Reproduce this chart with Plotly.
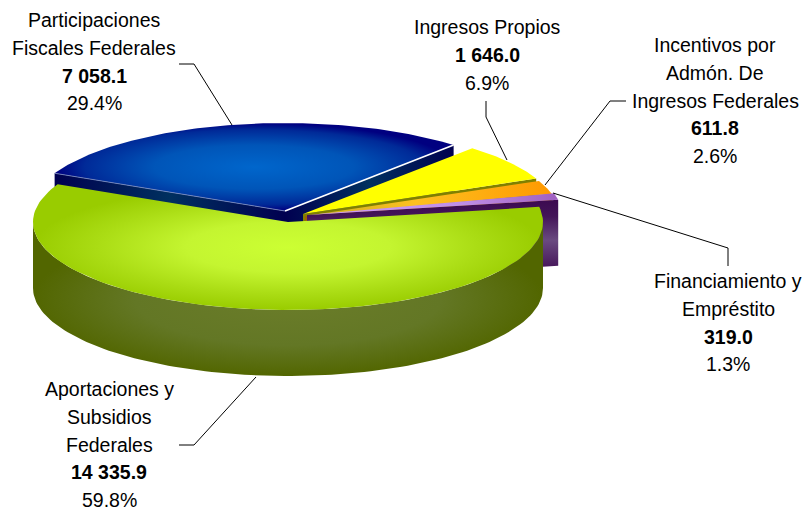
import numpy as np
import plotly.graph_objects as go

# Datos
categorias = ["Participaciones Fiscales Federales", "Ingresos Propios",
              "Incentivos por Admón. De Ingresos Federales",
              "Financiamiento y Empréstito", "Aportaciones y Subsidios Federales"]
valores = [7058.1, 1646.0, 611.8, 319.0, 14335.9]
etiquetas_valor = ["7 058.1", "1 646.0", "611.8", "319.0", "14 335.9"]
etiquetas_pct = ["29.4%", "6.9%", "2.6%", "1.3%", "59.8%"]
lineas_texto = [["Participaciones", "Fiscales Federales"], ["Ingresos Propios"],
                ["Incentivos por", "Admón. De", "Ingresos Federales"],
                ["Financiamiento y", "Empréstito"],
                ["Aportaciones y", "Subsidios", "Federales"]]

# Geometria del pastel
A, B, H = 255, 88, 66
INICIO = 154.6
centros = [(285, 211), (303, 214), (305, 216), (307, 215), (288, 222)]
texto_pos = [(94, 20), (487, 27), (715, 45), (728, 281), (109, 389)]
PASO = 27.8
lider = [[(179, 64), (194, 64), (232, 125)],
         [(486, 101), (486, 117), (507, 160)],
         [(626, 101), (610, 101), (545, 185)],
         [(553, 193), (728, 248), (728, 266)],
         [(179, 445), (194, 445), (256, 377)]]

spans = np.array(valores) / sum(valores) * 360
fines = INICIO - np.cumsum(spans)
inicios = np.concatenate([[INICIO], fines[:-1]])


def pt(c, t, dy=0):
    t = np.radians(t)
    return c[0] + A * np.cos(t), c[1] - B * np.sin(t) + dy


def arco(c, t0, t1, dy=0):
    ts = np.linspace(t0, t1, 120)
    return pt(c, ts, dy)


fig = go.Figure()


def poly(x, y, color=None, grad=None, orient="radial", linea=None):
    kw = dict(x=list(x), y=list(y), mode="lines", fill="toself", hoverinfo="skip",
              showlegend=False, line=dict(width=0))
    if grad:
        kw["fillgradient"] = dict(type=orient, colorscale=grad)
        kw["fillcolor"] = grad[0][1]
    else:
        kw["fillcolor"] = color
    fig.add_trace(go.Scatter(**kw))


def cara_top(i, color=None, grad=None, orient="radial"):
    c = centros[i]
    ax, ay = arco(c, inicios[i], fines[i])
    poly([c[0], *ax, c[0]], [c[1], *ay, c[1]], color, grad, orient)


def cara_corte(i, t, grad=None, color=None, orient="vertical"):
    c = centros[i]
    x, y = pt(c, t)
    poly([c[0], x, x, c[0], c[0]], [c[1], y, y + H, c[1] + H, c[1]], color, grad, orient)


azul_corte = [[0, "#000050"], [0.5, "#00305f"], [1, "#000050"]]
# Participaciones
cara_corte(0, inicios[0], azul_corte, orient="horizontal")
cara_corte(0, fines[0], azul_corte, orient="horizontal")
cara_top(0, grad=[[0, "#0066cc"], [0.5, "#0055b8"], [0.85, "#002a98"], [1, "#000080"]])
for t, col, w in [(fines[0], "#ffffff", 1.6), (inicios[0], "#7f8fc0", 0.8)]:
    x, y = pt(centros[0], t)
    fig.add_trace(go.Scatter(x=[centros[0][0], x], y=[centros[0][1], y], mode="lines",
                             line=dict(color=col, width=w), hoverinfo="skip", showlegend=False))

# Ingresos propios
cara_corte(1, fines[1], color="#808000")
cara_top(1, color="#ffff00")

# Incentivos
cara_corte(2, fines[2], color="#a06000")
cara_top(2, grad=[[0, "#c8b020"], [0.45, "#fdc020"], [1, "#ff9900"]], orient="horizontal")

# Financiamiento
cara_corte(3, fines[3], grad=[[0, "#3c0a50"], [0.2, "#4a1c5e"], [0.5, "#6a4a80"],
                              [0.8, "#431458"], [1, "#3c0a50"]])
cara_top(3, grad=[[0, "#cc99ff"], [0.6, "#c090e8"], [1, "#a060c0"]], orient="horizontal")

# Aportaciones
c = centros[4]
ax, ay = arco(c, 180, 360)
bx, by = arco(c, 360, 180, H)
poly([*ax, *bx, ax[0]], [*ay, *by, ay[0]],
     grad=[[0, "#6b7d2a"], [0.6, "#637725"], [1, "#526600"]])
cara_top(4, grad=[[0, "#ccff33"], [0.4, "#c4f530"], [0.75, "#aadc14"], [1, "#99cc00"]])

# Lineas guia
for trazo in lider:
    fig.add_trace(go.Scatter(x=[p[0] for p in trazo], y=[p[1] for p in trazo], mode="lines",
                             line=dict(color="#000000", width=1), hoverinfo="skip", showlegend=False))

# Textos
for i, (x0, y0) in enumerate(texto_pos):
    filas = lineas_texto[i] + ["<b>%s</b>" % etiquetas_valor[i], etiquetas_pct[i]]
    for j, fila in enumerate(filas):
        fig.add_annotation(x=x0, y=y0 + j * PASO, text=fila, showarrow=False,
                           xanchor="center", yanchor="middle",
                           font=dict(family="Liberation Sans", size=19.5, color="#000000"))

fig.update_layout(width=806, height=512, margin=dict(l=0, r=0, t=0, b=0),
                  paper_bgcolor="#ffffff", plot_bgcolor="#ffffff", showlegend=False,
                  xaxis=dict(range=[0, 806], visible=False, fixedrange=True),
                  yaxis=dict(range=[512, 0], visible=False, fixedrange=True))
# el body trae margen de 8px
fig.write_html("out.html", config=dict(displayModeBar=False),
               post_script="document.body.style.margin='0';")
